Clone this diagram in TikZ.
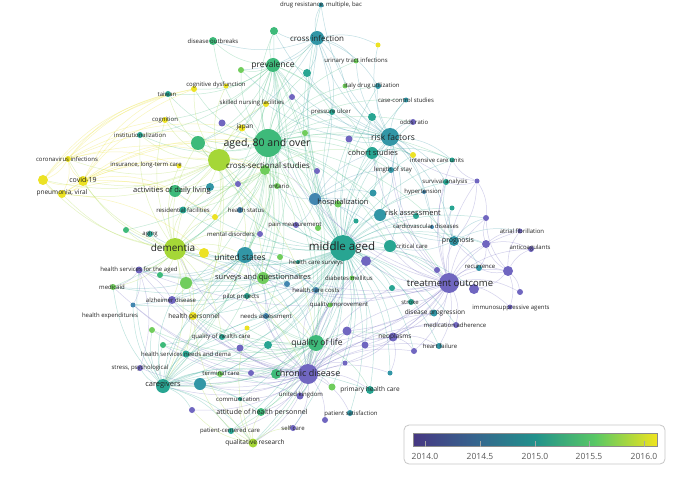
\documentclass[tikz,border=0pt]{standalone}
\usepackage{fontspec}
\setmainfont{Open Sans}
\usetikzlibrary{calc}
\definecolor{cP}{RGB}{112,102,192}
\definecolor{cPB}{RGB}{88,118,186}
\definecolor{cB}{RGB}{66,134,176}
\definecolor{cBT}{RGB}{50,150,166}
\definecolor{cT}{RGB}{40,165,146}
\definecolor{cTG}{RGB}{62,186,122}
\definecolor{cG}{RGB}{112,205,92}
\definecolor{cGY}{RGB}{165,215,55}
\definecolor{cY}{RGB}{236,226,36}
\definecolor{txt}{RGB}{35,35,35}
\definecolor{barP}{RGB}{70,55,130}
\definecolor{barB}{RGB}{55,100,142}
\definecolor{barT}{RGB}{33,145,140}
\definecolor{barG}{RGB}{90,200,100}
\definecolor{barY}{RGB}{240,228,30}
\pgfdeclarelayer{bg}
\pgfdeclarelayer{edges}
\pgfdeclarelayer{labels}
\pgfsetlayers{bg,edges,main,labels}
\tikzset{
  dot/.style={circle,inner sep=0pt,draw=none},
  lab/.style={inner sep=0pt,text=txt},
  edge/.style={line width=0.5pt,opacity=0.3},
}
\newcommand\N[5]{\node[dot,fill=#5,minimum size={2*#4pt}] (#1) at (#2,#3) {};}
\newcommand\Lb[5]{\node[lab,font=\fontsize{#4}{#4}\selectfont] (#1) at (#2,#3) {#5};}
\newcommand\EE[3]{\foreach \b in {#3} {\draw[edge,#1] (#2) to[bend left=18] (\b);}}
\begin{document}
\begin{tikzpicture}[x=1pt,y=-1pt]
\begin{pgfonlayer}{bg}
\fill[white] (0,0) rectangle (700,478);
\end{pgfonlayer}
\useasboundingbox (0,0) rectangle (700,478);
% ---------------- nodes ----------------
\N{drug}{321}{5}{2.5}{cBT}
\N{crossinf}{317}{38}{7}{cBT}
\N{outbreaks}{213}{41}{4}{cTG}
\N{n1}{274}{31}{4}{cTG}
\N{prev}{273}{65}{7}{cTG}
\N{y1}{378}{45}{2.5}{cY}
\N{uti}{356}{61}{2.5}{cG}
\N{g1}{241}{70}{3}{cG}
\N{t1}{307}{73}{4}{cT}
\N{cogdys}{194}{89}{3}{cY}
\N{cogdys2}{226}{86}{2.5}{cY}
\N{taiwan}{168}{94}{3}{cT}
\N{cognition}{165}{120}{3}{cY}
\N{inst}{140}{135}{3}{cT}
\N{p1}{222}{123}{3.5}{cP}
\N{g2}{198}{143}{7}{cTG}
\N{aged}{268}{143}{14}{cTG}
\N{gy1}{219}{160}{11}{cGY}
\N{cs}{265}{170}{5}{cG}
\N{japan}{242}{128}{3.5}{cY}
\N{snf}{266}{104}{3}{cY}
\N{p2}{292}{97}{3}{cP}
\N{pu}{332}{112}{3}{cT}
\N{italy}{345}{86}{2.5}{cG}
\N{du}{378}{86}{3}{cBT}
\N{cc}{406}{100}{2.5}{cBT}
\N{t2}{372}{117}{4}{cT}
\N{odds}{413}{122}{3}{cP}
\N{g3}{305}{133}{3}{cG}
\N{rf}{390}{137}{9}{cBT}
\N{p3}{349}{139}{3.5}{cP}
\N{cohort}{372}{153}{6}{cT}
\N{y2}{413}{155}{3}{cY}
\N{icu}{452}{160}{2.5}{cT}
\N{los}{391}{170}{3}{cBT}
\N{ontario}{277}{186}{3}{cG}
\N{p4}{317}{171}{3}{cP}
\N{p5}{238}{184}{3}{cP}
\N{bt1}{373}{193}{3.5}{cBT}
\N{surv}{446}{182}{3}{cT}
\N{p6}{477}{181}{2.5}{cP}
\N{hyp}{424}{192}{2}{cB}
\N{hosp}{315}{199}{6}{cB}
\N{g4}{338}{204}{3.5}{cG}
\N{t4}{452}{208}{2.5}{cT}
\N{ra}{380}{215}{6}{cBT}
\N{t5}{416}{216}{3}{cT}
\N{cvd}{432}{227}{2}{cB}
\N{p7}{486}{218}{3}{cP}
\N{t6}{356}{221}{2.5}{cT}
\N{pain}{296}{225}{3}{cP}
\N{g5}{318}{228}{3}{cG}
\N{prog}{454}{241}{5}{cBT}
\N{af}{520}{231}{2.5}{cP}
\N{antic}{531}{249}{3}{cP}
\N{p8}{486}{244}{4}{cP}
\N{crit}{390}{246}{6}{cT}
\N{middle}{343}{248}{13}{cT}
\N{p9}{366}{261}{5}{cP}
\N{recur}{479}{268}{3}{cBT}
\N{p10}{508}{271}{5}{cP}
\N{tout}{449}{283}{10}{cP}
\N{p11}{474}{289}{5}{cP}
\N{p12}{520}{292}{3}{cP}
\N{p13}{437}{270}{3}{cP}
\N{t7}{392}{288}{3}{cT}
\N{immuno}{510}{307}{2.5}{cP}
\N{stroke}{411}{302}{3}{cT}
\N{dp}{434}{313}{3.5}{cBT}
\N{ma}{456}{325}{3}{cP}
\N{hf}{439}{346}{3}{cBT}
\N{p14}{414}{351}{3}{cP}
\N{corona}{68}{159}{3}{cY}
\N{y3}{43}{180}{5}{cY}
\N{covid}{83}{181}{5}{cY}
\N{pneu}{62}{194}{4}{cY}
\N{ins}{179}{166}{2.5}{cY}
\N{adl}{175}{191}{6}{cTG}
\N{t8}{210}{187}{4}{cBT}
\N{resid}{183}{210}{3.5}{cT}
\N{hstatus}{240}{210}{3}{cB}
\N{y4}{215}{217}{3}{cY}
\N{md}{260}{234}{3}{cP}
\N{t9}{126}{230}{3}{cTG}
\N{aging}{150}{234}{3}{cT}
\N{dementia}{175}{249}{11}{cGY}
\N{y5}{204}{253}{5}{cY}
\N{us}{245}{255}{8}{cBT}
\N{g6}{280}{257}{3}{cG}
\N{hcs}{298}{262}{2}{cT}
\N{diab}{352}{278}{2.5}{cG}
\N{hsaged}{139}{270}{3.5}{cP}
\N{tg1}{160}{275}{3}{cTG}
\N{g7}{186}{283}{6}{cG}
\N{sq}{263}{278}{6}{cG}
\N{b1}{287}{284}{3}{cB}
\N{hcc}{316}{290}{3}{cB}
\N{medicaid}{113}{287}{3}{cG}
\N{alz}{172}{300}{4}{cP}
\N{pilot}{247}{296}{3}{cT}
\N{qi}{330}{305}{2.5}{cG}
\N{he}{133}{305}{2.5}{cB}
\N{hp}{193}{316}{4}{cY}
\N{na}{266}{316}{3}{cB}
\N{y6}{247}{328}{2.5}{cY}
\N{g8}{152}{330}{3}{cG}
\N{g9}{163}{345}{3}{cTG}
\N{qhc}{222}{337}{3}{cT}
\N{p15}{240}{348}{3.5}{cP}
\N{t10}{268}{345}{4}{cT}
\N{ql}{316}{343}{8}{cTG}
\N{p16}{347}{331}{4.5}{cP}
\N{p17}{365}{345}{3.5}{cP}
\N{neo}{393}{337}{4.5}{cP}
\N{p18}{345}{363}{2.5}{cP}
\N{hsn}{186}{354}{3.5}{cT}
\N{stress}{140}{368}{3}{cP}
\N{cg}{163}{386}{7}{cT}
\N{t11}{200}{384}{6}{cBT}
\N{terminal}{220}{374}{3}{cG}
\N{p19}{251}{373}{3}{cP}
\N{cd}{308}{374}{10}{cP}
\N{tg2}{276}{374}{5}{cTG}
\N{t12}{390}{373}{2.5}{cBT}
\N{phc}{370}{390}{4}{cT}
\N{g10}{332}{387}{3.5}{cG}
\N{comm}{240}{399}{2}{cT}
\N{uk}{300}{396}{3.5}{cP}
\N{p20}{192}{410}{3}{cP}
\N{attitude}{261}{412}{4}{cTG}
\N{ps}{350}{413}{3}{cBT}
\N{p21}{325}{420}{3}{cP}
\N{selfcare}{293}{428}{3}{cP}
\N{pcc}{231}{431}{3}{cT}
\N{qr}{253}{443}{4.5}{cGY}
% ---------------- edges ----------------
\begin{pgfonlayer}{edges}
\EE{cTG}{aged}{prev,crossinf,outbreaks,g1,japan,snf,p2,pu,g3,rf,cohort,cs,gy1,g2,adl,inst,taiwan,cogdys,cognition,middle,us,dementia,sq,hosp,ontario,ql,cd,cg,t9,resid,n1,t1,du,los,ra,crit,p4,md,hstatus,hsaged,medicaid,alz,hp,hsn,qhc,pilot,na,tout,prog,italy,uti,cc,odds,y2,icu}
\EE{cT}{middle}{rf,ra,crit,prog,tout,hosp,cohort,los,icu,surv,us,sq,ql,cd,dementia,diab,hcc,qi,neo,pain,t6,g4,p9,t7,stroke,dp,hf,phc,uk,pilot,na,odds,cc,prev,crossinf,qhc,hsn,cg,hp,alz,attitude,ps,p3,t2,p16,bt1,hyp,cvd,gy1,g2,adl,resid,hstatus,md,y5,hsaged,medicaid,he,tg1,g7,g9,terminal,t11,tg2,p15,t10,comm,qr,pcc,selfcare,g10,p17,p18,t12,p14,ma,p11,p13,p8,p7,t4,t5,y2,du,pu,g3,p4,ontario,t1,n1,drug}
\EE{cP}{tout}{prog,recur,p10,p11,p12,af,antic,immuno,stroke,dp,ma,hf,p8,p7,p13,neo,ra,crit,rf,cd,ql,surv,t4,p6,p14,hsaged,cg,us,sq,hosp,cohort,los,icu,p9,t7,p16,p17,dementia,aged}
\EE{cP}{p10}{antic,af,p12,p8,immuno,p7,prog,p11,recur}
\EE{cP}{p8}{af,antic,p7,recur}
\EE{cP}{p6}{rf,icu,surv,p7,prog}
\EE{cBT}{rf}{cc,odds,du,cohort,los,icu,crossinf,prev,pu,ra,hosp,t2,p3,y2,surv,hyp,drug,n1,t1,italy,uti,y1,g1,p2,snf,prog,crit,cvd}
\EE{cBT}{crossinf}{drug,prev,n1,outbreaks,uti,y1,t1,du,g1,cs,hosp,italy,pu,g2}
\EE{cTG}{prev}{outbreaks,n1,g1,snf,p2,t1,cs,japan,cogdys,taiwan,g2,pu,cohort,hosp,dementia,us,adl,sq,ql,cd,inst,cognition}
\EE{cGY}{dementia}{adl,aging,us,y5,hsaged,alz,g7,tg1,hp,cg,resid,cs,gy1,md,sq,medicaid,t9,ins,y4,corona,covid,qhc,hsn,pneu,y3,ql,cd,g2,inst,cognition}
\EE{cGY}{gy1}{covid,y3,pneu,corona,ins,adl,cogdys,cognition,japan,inst,cs,y4,cogdys2,snf,taiwan,g2,resid,us,sq,hp,cg,ql}
\EE{cY}{covid}{y3,corona,pneu,ins,cognition,taiwan,y4,adl,aged,cs,g2,cogdys}
\EE{cY}{corona}{y3,pneu,aged,cs,ins,cogdys,taiwan,japan}
\EE{cY}{pneu}{y3,aged,ins,adl,y5}
\EE{cY}{y3}{cogdys,taiwan,cognition}
\EE{cG}{cs}{adl,us,sq,ontario,hosp,hstatus,pain,g5,p4,md,p5,t8,resid,y4,cohort}
\EE{cBT}{us}{sq,hsaged,medicaid,he,alz,pilot,na,hcc,b1,qi,g6,ql,cd,hp,tg1,g7,hcs,aging,t9}
\EE{cP}{cd}{ql,uk,phc,ps,selfcare,p21,p18,neo,p16,p17,tg2,attitude,comm,p19,terminal,g10,t12,cg,qr,pcc,hsn,na,hcc,us,sq,dementia,hsaged,stress,p20,alz,medicaid,he,hp,t11,g8,g9,qhc,p15,t10,diab,qi,t7,p9,stroke,dp,hf,p14,ma,crit}
\EE{cTG}{ql}{cg,qhc,hsn,terminal,attitude,p15,t10,tg2,sq,uk,phc,neo,qr,pcc,t11,g8,g9,hp,na,y6,pilot,alz}
\EE{cT}{cg}{stress,hsn,terminal,t11,p20,attitude,pcc,qr,g8,g9,he,alz,hsaged,qhc,us,sq,hp,medicaid,na,pilot,t10,p15,tg2,p19,comm,uk,phc}
\EE{cP}{hsaged}{stress,medicaid,he,alz,tg1}
\EE{cGY}{qr}{pcc,selfcare,attitude,comm,hp,y6,t11,p20}
\EE{cB}{hosp}{los,ra,crit,g4,p4,bt1,t6,cohort,ontario,pain}
\EE{cP}{neo}{p14,hf,ma,dp,p18,p16,p17,t12}
\EE{cBT}{prog}{surv,t4,cvd,p7,p8,recur,crit,ra,hyp,af}
\EE{cT}{cohort}{los,icu,t2,y2,ra,bt1,hyp}
\end{pgfonlayer}
% ---------------- labels ----------------
\begin{pgfonlayer}{labels}
\Lb{l1}{321}{5}{6}{drug resistance, multiple, bac}
\Lb{l2}{317}{38}{8}{cross infection}
\Lb{l3}{213}{41}{6}{disease outbreaks}
\Lb{l4}{273}{65}{8.5}{prevalence}
\Lb{l5}{356}{61}{6}{urinary tract infections}
\Lb{l6}{216}{85}{6}{cognitive dysfunction}
\Lb{l7}{167}{94}{6}{taiwan}
\Lb{l8}{165}{120}{6}{cognition}
\Lb{l9}{140}{135}{6}{institutionalization}
\Lb{l10}{267}{144}{10.5}{aged, 80 and over}
\Lb{l11}{268}{166}{8}{cross-sectional studies}
\Lb{l12}{245}{127}{6.5}{japan}
\Lb{l13}{252}{103}{6}{skilled nursing facilities}
\Lb{l14}{331}{112}{6}{pressure ulcer}
\Lb{l15}{372}{86}{6}{italy drug utilization}
\Lb{l16}{406}{100}{6}{case-control studies}
\Lb{l17}{414}{122}{6}{odds ratio}
\Lb{l18}{393}{137}{8.5}{risk factors}
\Lb{l19}{373}{153}{7.5}{cohort studies}
\Lb{l20}{437}{160}{6}{intensive care units}
\Lb{l21}{393}{170}{6}{length of stay}
\Lb{l22}{279}{186}{6}{ontario}
\Lb{l23}{445}{182}{6}{survival analysis}
\Lb{l24}{423}{192}{6}{hypertension}
\Lb{l25}{343}{203}{7.5}{hospitalization}
\Lb{l26}{413}{213}{7.5}{risk assessment}
\Lb{l27}{426}{226}{6}{cardiovascular diseases}
\Lb{l28}{295}{225}{6}{pain measurement}
\Lb{l29}{458}{241}{7}{prognosis}
\Lb{l30}{522}{231}{6}{atrial fibrillation}
\Lb{l31}{530}{248}{6}{anticoagulants}
\Lb{l32}{412}{246}{6}{critical care}
\Lb{l33}{342}{248}{11.5}{middle aged}
\Lb{l34}{480}{267}{6}{recurrence}
\Lb{l35}{450}{283}{9.5}{treatment outcome}
\Lb{l36}{511}{308}{6}{immunosuppressive agents}
\Lb{l37}{410}{302}{6}{stroke}
\Lb{l38}{435}{313}{6.5}{disease progression}
\Lb{l39}{455}{325}{6}{medication adherence}
\Lb{l40}{440}{346}{6}{heart failure}
\Lb{l41}{395}{337}{6.5}{neoplasms}
\Lb{l42}{67}{159}{6}{coronavirus infections}
\Lb{l43}{83}{180}{7}{covid-19}
\Lb{l44}{62}{193}{6.5}{pneumonia, viral}
\Lb{l45}{146}{165}{6}{insurance, long-term care}
\Lb{l46}{172}{191}{7.5}{activities of daily living}
\Lb{l47}{183}{210}{6}{residential facilities}
\Lb{l48}{246}{210}{6}{health status}
\Lb{l49}{231}{234}{6}{mental disorders}
\Lb{l50}{150}{234}{6}{aging}
\Lb{l51}{173}{248}{10}{dementia}
\Lb{l52}{240}{257}{8.5}{united states}
\Lb{l53}{316}{263}{6}{health care surveys}
\Lb{l54}{349}{278}{6}{diabetes mellitus}
\Lb{l55}{139}{270}{6}{health services for the aged}
\Lb{l56}{263}{278}{7.5}{surveys and questionnaires}
\Lb{l57}{316}{290}{6}{health care costs}
\Lb{l58}{112}{287}{6}{medicaid}
\Lb{l59}{171}{300}{6}{alzheimer disease}
\Lb{l60}{241}{297}{6}{pilot projects}
\Lb{l61}{339}{305}{6}{quality improvement}
\Lb{l62}{110}{316}{6}{health expenditures}
\Lb{l63}{194}{317}{6.5}{health personnel}
\Lb{l64}{266}{316}{6}{needs assessment}
\Lb{l65}{221}{337}{6}{quality of health care}
\Lb{l66}{317}{343}{8.5}{quality of life}
\Lb{l67}{186}{354}{6}{health services needs and dema}
\Lb{l68}{140}{368}{6}{stress, psychological}
\Lb{l69}{163}{385}{7.5}{caregivers}
\Lb{l70}{221}{373}{6}{terminal care}
\Lb{l71}{308}{373}{9}{chronic disease}
\Lb{l72}{238}{399}{6}{communication}
\Lb{l73}{301}{395}{6}{united kingdom}
\Lb{l74}{370}{390}{6.5}{primary health care}
\Lb{l75}{262}{413}{7}{attitude of health personnel}
\Lb{l76}{351}{414}{6}{patient satisfaction}
\Lb{l77}{293}{428}{6}{self care}
\Lb{l78}{230}{431}{6}{patient-centered care}
\Lb{l79}{255}{443}{6.5}{qualitative research}
\end{pgfonlayer}
% ---------------- legend ----------------
\node[draw=black!22,line width=0.8pt,rounded corners=5pt,fill=white,minimum width=261pt,minimum height=39pt,inner sep=0pt] (legend) at (534.5,444.5) {};
\shade[left color=barP,right color=barB] (413,433) rectangle (474,446);
\shade[left color=barB,right color=barT] (473.5,433) rectangle (535,446);
\shade[left color=barT,right color=barG] (534.5,433) rectangle (596,446);
\shade[left color=barG,right color=barY] (595.5,433) rectangle (657,446);
\draw[black!45,line width=0.5pt] (413,433) rectangle (657,446);
\foreach \x/\t [count=\i] in {425/2014.0,480/2014.5,535/2015.0,589/2015.5,644/2016.0} {
  \draw[black!35,line width=0.8pt] (\x,441) -- (\x,447);
  \node[lab,text=black!65,font=\fontsize{8.5}{8.5}\selectfont] (tick\i) at (\x,456.5) {\t};
}
\end{tikzpicture}
\end{document}
